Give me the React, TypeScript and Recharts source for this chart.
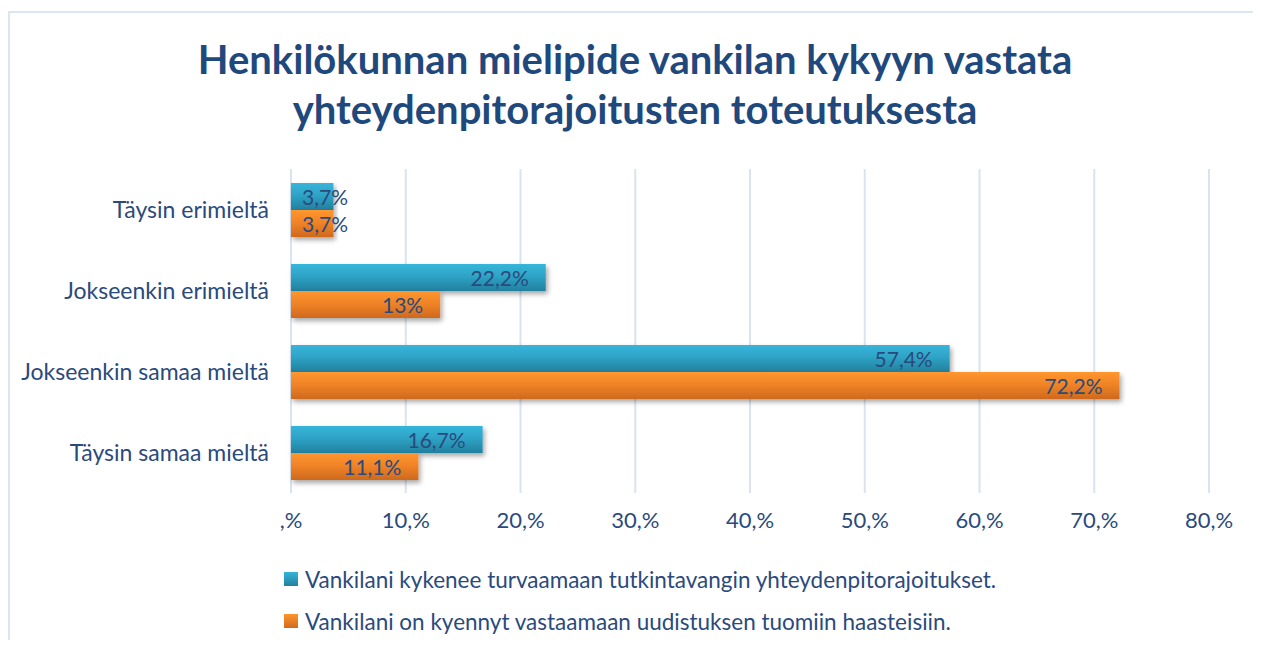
import React from "react";
import {
  BarChart,
  Bar,
  XAxis,
  YAxis,
  CartesianGrid,
  Legend,
  LabelList,
} from "recharts";

const categories = [
  "Täysin erimieltä",
  "Jokseenkin erimieltä",
  "Jokseenkin samaa mieltä",
  "Täysin samaa mieltä",
];
const turvaamaan = [3.7, 22.2, 57.4, 16.7];
const vastaamaan = [3.7, 13, 72.2, 11.1];
const xTicks = [0, 10, 20, 30, 40, 50, 60, 70, 80];

const seriesNames = [
  "Vankilani kykenee turvaamaan tutkintavangin yhteydenpitorajoitukset.",
  "Vankilani on kyennyt vastaamaan uudistuksen tuomiin haasteisiin.",
];

const chartData = categories.map((name, i) => ({
  name,
  a: turvaamaan[i],
  b: vastaamaan[i],
}));

const FONT = "Lato, 'Open Sans', sans-serif";
const TEXT = "#2a4a7c";

const fmt = (v: number) => String(v).replace(".", ",") + "%";

// sisäpään arvotunniste, siirtyy ulos jos palkki on liian lyhyt
function makeLabel(fontSize: number) {
  return (props: any) => {
    const { x, y, width, height, value } = props;
    const txt = fmt(value);
    const approxW = txt.length * fontSize * 0.5;
    const end = Math.max(x + width - 17, x + 15 + approxW);
    return (
      <text
        x={end}
        y={y + height / 2}
        textAnchor="end"
        dominantBaseline="central"
        fill={TEXT}
        fontSize={fontSize}
        fontFamily={FONT}
      >
        {txt}
      </text>
    );
  };
}

const barShape = (grad: string) => (props: any) => {
  const { x, y, width, height } = props;
  if (!width || width <= 0) return <g />;
  return (
    <rect
      x={x}
      y={y}
      width={width}
      height={height}
      fill={`url(#${grad})`}
      filter="url(#barShadow)"
    />
  );
};

function LegendBox() {
  const swatch = [
    "linear-gradient(#36b3d8, #23819f)",
    "linear-gradient(#ff952e, #d06a1e)",
  ];
  return (
    <div style={{ height: 80, paddingLeft: 274, fontFamily: FONT }}>
      {seriesNames.map((s, i) => (
        <div
          key={s}
          style={{
            display: "flex",
            alignItems: "center",
            height: 42,
            color: TEXT,
            fontSize: 22.5,
          }}
        >
          <span
            style={{
              width: 14,
              height: 14,
              background: swatch[i],
              marginRight: 7,
              display: "inline-block",
            }}
          />
          {s}
        </div>
      ))}
    </div>
  );
}

export default function App() {
  return (
    <div
      style={{
        position: "relative",
        top: 3,
        width: 1250,
        height: 630,
        borderTop: "2px solid #dce6f2",
        borderLeft: "2px solid #dce6f2",
        borderRight: "1px solid #e6eef8",
        background: "#fff",
        fontFamily: FONT,
      }}
    >
      <div
        style={{
          position: "absolute",
          top: 21,
          left: 0,
          width: "100%",
          textAlign: "center",
          fontSize: 40,
          lineHeight: "50px",
          fontWeight: 700,
          color: "#1f497d",
          zIndex: 2,
        }}
      >
        Henkilökunnan mielipide vankilan kykyyn vastata
        <br />
        yhteydenpitorajoitusten toteutuksesta
      </div>
      <BarChart
        width={1250}
        height={630}
        data={chartData}
        layout="vertical"
        margin={{ top: 156, right: 51, left: 0, bottom: 5 }}
        barGap={0}
      >
        <defs>
          <linearGradient id="gradBlue" x1="0" y1="0" x2="0" y2="1">
            <stop offset="0%" stopColor="#37b5da" />
            <stop offset="45%" stopColor="#2ea3c6" />
            <stop offset="100%" stopColor="#22809e" />
          </linearGradient>
          <linearGradient id="gradOrange" x1="0" y1="0" x2="0" y2="1">
            <stop offset="0%" stopColor="#ff962f" />
            <stop offset="45%" stopColor="#f08427" />
            <stop offset="100%" stopColor="#cf691d" />
          </linearGradient>
          <filter id="barShadow" x="-5%" y="-20%" width="115%" height="160%">
            <feDropShadow dx="2" dy="3" stdDeviation="2.5" floodColor="#000" floodOpacity="0.35" />
          </filter>
        </defs>
        <CartesianGrid
          horizontal={false}
          stroke="#d9e3f1"
          strokeWidth={2}
        />
        <XAxis
          type="number"
          domain={[0, 80]}
          ticks={xTicks}
          interval={0}
          axisLine={false}
          tickLine={false}
          tickMargin={13}
          height={65}
          tickFormatter={(v: number) => (v === 0 ? ",%" : `${v},%`)}
          tick={{ fill: TEXT, fontSize: 22, fontFamily: FONT }}
        />
        <YAxis
          type="category"
          dataKey="name"
          width={281}
          axisLine={false}
          tickLine={false}
          tickMargin={16}
          tick={{ fill: TEXT, fontSize: 23, fontFamily: FONT }}
        />
        <Legend
          verticalAlign="bottom"
          align="left"
          wrapperStyle={{ left: 0, width: 1250 }}
          content={() => <LegendBox />}
        />
        <Bar
          dataKey="a"
          name={seriesNames[0]}
          barSize={27}
          shape={barShape("gradBlue")}
          isAnimationActive={false}
        >
          <LabelList dataKey="a" content={makeLabel(21)} />
        </Bar>
        <Bar
          dataKey="b"
          name={seriesNames[1]}
          barSize={27}
          shape={barShape("gradOrange")}
          isAnimationActive={false}
        >
          <LabelList dataKey="b" content={makeLabel(21)} />
        </Bar>
      </BarChart>
    </div>
  );
}
